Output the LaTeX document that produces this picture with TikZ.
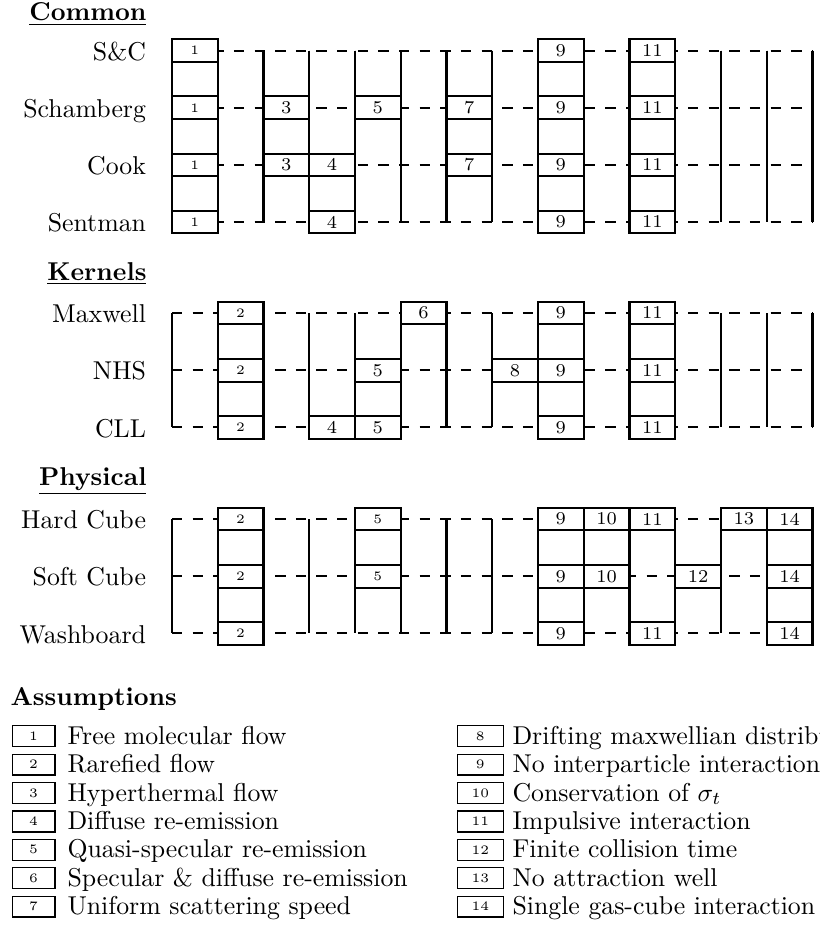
\documentclass[tikz,border=0pt]{standalone}
\begin{document}
\begin{tikzpicture}[x=0.3876pt,y=-0.3876pt,
  vline/.style={line width=0.8pt},
  rowline/.style={line width=0.8pt, dash pattern=on 4pt off 4pt},
  cell/.style={draw, fill=white, line width=0.8pt, minimum width=17.73pt, minimum height=8.8pt, inner sep=0pt, font=\scriptsize},
  smallcell/.style={cell, font=\tiny},
  lbox/.style={draw, line width=0.5pt, minimum width=16.6pt, minimum height=8.1pt, inner sep=0pt, font=\tiny},
  rbox/.style={lbox, minimum width=17.8pt},
  rowlabel/.style={anchor=base east, inner sep=0pt},
  head/.style={anchor=base east, inner sep=0pt, font=\bfseries},
  ltext/.style={anchor=base west, inner sep=0pt}]
\useasboundingbox (0,0) rectangle (819,928);
\def\X{172}\def\W{45.75}\def\h{11.35}\def\xr{812.5}

% ---------------- Common ----------------
\node[head] (hC) at (147,21) {\underline{Common}};
\def\ya{50.7}\def\yb{222}
\foreach \c/\t/\b in {1/1/1,2/0/0,3/0/0,4/0/1,5/0/0,6/0/0,7/0/0,8/0/0,9/1/1,10/0/0,11/1/1,12/0/0,13/0/0,14/0/0}{
  \draw[vline] ({\X+(\c-1)*\W},{\ya-\t*\h}) -- ({\X+(\c-1)*\W},{\yb+\b*\h});
  \draw[vline] ({\X+\c*\W},{\ya-\t*\h}) -- ({\X+\c*\W},{\yb+\b*\h});
}
\foreach \y/\lab/\nm in {50.7/{S\&C}/sc,107.8/Schamberg/sch,164.9/Cook/cook,222/Sentman/sen}{
  \node[rowlabel] (\nm) at (146.5,\y+9.7) {\lab};
  \coordinate (\nm-a) at (\X,\y);
  \coordinate (\nm-b) at (\xr,\y);
  \draw[rowline] (\nm-a) -- (\nm-b);
}
\foreach \nm/\y in {sc/50.7,sch/107.8,cook/164.9,sen/222}
  \node[smallcell] (\nm-1) at ({\X+0.5*\W},\y) {1};
\foreach \c in {9,11} \node[cell] (sc-\c) at ({\X+(\c-0.5)*\W},50.7) {\c};
\foreach \c in {3,5,7,9,11} \node[cell] (sch-\c) at ({\X+(\c-0.5)*\W},107.8) {\c};
\foreach \c in {3,4,7,9,11} \node[cell] (cook-\c) at ({\X+(\c-0.5)*\W},164.9) {\c};
\foreach \c in {4,9,11} \node[cell] (sen-\c) at ({\X+(\c-0.5)*\W},222) {\c};

% ---------------- Kernels ----------------
\node[head] (hK) at (147,280) {\underline{Kernels}};
\def\ya{313}\def\yb{427.4}
\foreach \c/\t/\b in {1/0/0,2/1/1,3/0/0,4/0/1,5/0/1,6/1/0,7/0/0,8/0/0,9/1/1,10/0/0,11/1/1,12/0/0,13/0/0,14/0/0}{
  \draw[vline] ({\X+(\c-1)*\W},{\ya-\t*\h}) -- ({\X+(\c-1)*\W},{\yb+\b*\h});
  \draw[vline] ({\X+\c*\W},{\ya-\t*\h}) -- ({\X+\c*\W},{\yb+\b*\h});
}
\foreach \y/\lab/\nm in {313/Maxwell/max,370.2/NHS/nhs,427.4/CLL/cll}{
  \node[rowlabel] (\nm) at (146.5,\y+9.7) {\lab};
  \coordinate (\nm-a) at (\X,\y);
  \coordinate (\nm-b) at (\xr,\y);
  \draw[rowline] (\nm-a) -- (\nm-b);
  \node[smallcell] (\nm-2) at ({\X+1.5*\W},\y) {2};
}
\foreach \c in {6,9,11} \node[cell] (max-\c) at ({\X+(\c-0.5)*\W},313) {\c};
\foreach \c in {5,8,9,11} \node[cell] (nhs-\c) at ({\X+(\c-0.5)*\W},370.2) {\c};
\foreach \c in {4,5,9,11} \node[cell] (cll-\c) at ({\X+(\c-0.5)*\W},427.4) {\c};

% ---------------- Physical ----------------
\node[head] (hP) at (147,485) {\underline{Physical}};
\def\ya{519}\def\yb{633.4}
\foreach \c/\t/\b in {1/0/0,2/1/1,3/0/0,4/0/0,5/1/0,6/0/0,7/0/0,8/0/0,9/1/1,10/1/0,11/1/1,12/0/0,13/1/0,14/1/1}{
  \draw[vline] ({\X+(\c-1)*\W},{\ya-\t*\h}) -- ({\X+(\c-1)*\W},{\yb+\b*\h});
  \draw[vline] ({\X+\c*\W},{\ya-\t*\h}) -- ({\X+\c*\W},{\yb+\b*\h});
}
\foreach \y/\lab/\nm in {519/Hard Cube/hard,576.2/Soft Cube/soft,633.4/Washboard/wash}{
  \node[rowlabel] (\nm) at (146.5,\y+9.7) {\lab};
  \coordinate (\nm-a) at (\X,\y);
  \coordinate (\nm-b) at (\xr,\y);
  \draw[rowline] (\nm-a) -- (\nm-b);
  \node[smallcell] (\nm-2) at ({\X+1.5*\W},\y) {2};
}
\node[smallcell] (hard-5) at ({\X+4.5*\W},519) {5};
\node[smallcell] (soft-5) at ({\X+4.5*\W},576.2) {5};
\foreach \c in {9,10,11,13,14} \node[cell] (hard-\c) at ({\X+(\c-0.5)*\W},519) {\c};
\foreach \c in {9,10,12,14} \node[cell] (soft-\c) at ({\X+(\c-0.5)*\W},576.2) {\c};
\foreach \c in {9,11,14} \node[cell] (wash-\c) at ({\X+(\c-0.5)*\W},633.4) {\c};

% ---------------- Assumptions ----------------
\node[inner sep=0pt, anchor=base west, font=\bfseries] (hA) at (10,705) {Assumptions};
\foreach \i/\t in {1/Free molecular flow,2/Rarefied flow,3/Hyperthermal flow,4/Diffuse re-emission,5/Quasi-specular re-emission,6/{Specular \& diffuse re-emission},7/Uniform scattering speed}{
  \node[lbox] (L\i) at (33.6,{736.2+(\i-1)*28.4}) {\i};
  \node[ltext] (T\i) at (67,{744.2+(\i-1)*28.4}) {\t};
}
\foreach \i/\t in {8/Drifting maxwellian distribution,9/No interparticle interaction,10/Conservation of $\sigma_t$,11/Impulsive interaction,12/Finite collision time,13/No attraction well,14/Single gas-cube interaction}{
  \node[rbox] (L\i) at (480.3,{736.2+(\i-8)*28.4}) {\i};
  \node[ltext] (T\i) at (512,{744.2+(\i-8)*28.4}) {\t};
}
\end{tikzpicture}
\end{document}
